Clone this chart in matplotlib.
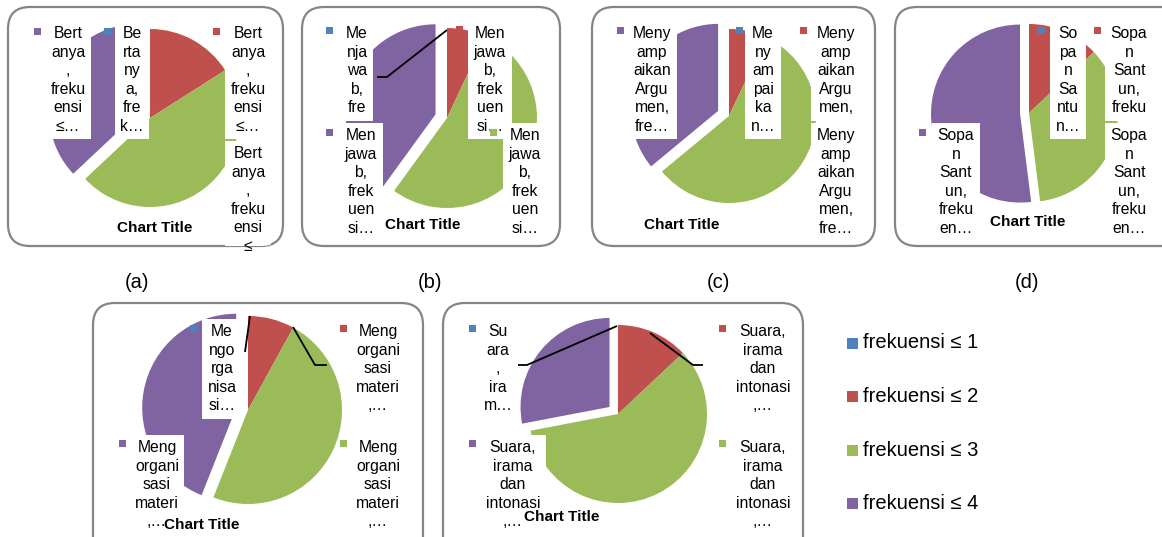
import matplotlib.pyplot as plt
from matplotlib.patches import FancyBboxPatch, Rectangle

plt.rcParams['font.family'] = ['Liberation Sans', 'DejaVu Sans']

categories = ['frekuensi ≤ 1', 'frekuensi ≤ 2', 'frekuensi ≤ 3', 'frekuensi ≤ 4']
colors = ['#4F81BD', '#C0504D', '#9BBB59', '#8064A2']

# share of students per frequency class, one list per speaking aspect
bertanya = [0, 16, 47, 37]
menjawab = [0, 7, 53, 40]
argumen = [0, 7, 57, 36]
sopan = [0, 13, 35, 52]
organisasi = [0, 8, 48, 44]
suara = [0, 13, 59, 28]

panel_tags = ['(a)', '(b)', '(c)', '(d)']

# wrapped data label texts as Excel squeezed them
lbl_bertanya = ['Bert\nanya\n,\nfreku\nensi\n≤…', 'Be\nrta\nny\na,\nfre\nk…',
                'Bert\nanya\n,\nfreku\nensi\n≤…', 'Bert\nanya\n,\nfreku\nensi\n≤']
lbl_menjawab = ['Me\nnja\nwa\nb,\nfre', 'Men\njawa\nb,\nfrek\nuen\nsi…',
                'Men\njawa\nb,\nfrek\nuen\nsi…', 'Men\njawa\nb,\nfrek\nuen\nsi…']
lbl_argumen = ['Meny\namp\naikan\nArgu\nmen,\nfre…', 'Me\nny\nam\npai\nka\nn…',
               'Meny\namp\naikan\nArgu\nmen,', 'Meny\namp\naikan\nArgu\nmen,\nfre…']
lbl_sopan = ['So\npa\nn\nSa\nntu\nn…', 'Sopa\nn\nSant\nun,\nfreku',
             'Sopa\nn\nSant\nun,\nfreku\nen…', 'Sopa\nn\nSant\nun,\nfreku\nen…']
lbl_organisasi = ['Me\nngo\nrga\nnisa\nsi…', 'Meng\norgani\nsasi\nmateri\n,…',
                  'Meng\norgani\nsasi\nmateri\n,…', 'Meng\norgani\nsasi\nmateri\n,…']
lbl_suara = ['Su\nara\n,\nira\nm…', 'Suara,\nirama\ndan\nintonasi\n,…',
             'Suara,\nirama\ndan\nintonasi\n,…', 'Suara,\nirama\ndan\nintonasi\n,…']

W, H = 1162, 537
fig = plt.figure(figsize=(W / 100, H / 100), dpi=100)
ax = fig.add_axes([0, 0, 1, 1])


def draw_panel(vals, box, center, radius, shift, title_xy, labels, leaders):
    x0, y0, x1, y1 = box
    frame = FancyBboxPatch((x0, y0), x1 - x0, y1 - y0,
                           boxstyle='round,pad=0,rounding_size=22',
                           fc='white', ec='#858585', lw=1.6, zorder=0)
    ax.add_patch(frame)
    # y axis points down, so this runs clockwise from 12 o'clock
    ax.pie(vals, colors=colors, center=center, radius=radius,
           startangle=-90, counterclock=True,
           explode=[0, 0, 0, shift], wedgeprops=dict(linewidth=0), frame=True)
    for pts, col in leaders:
        ax.plot([p[0] for p in pts], [p[1] for p in pts], color=col, lw=1.3,
                zorder=2, solid_capstyle='butt')
    for key, kx, ky, tx, ty, txt in labels:
        t = ax.text(tx, ty, txt, ha='center', va='top', fontsize=11.3,
                    linespacing=1.3, zorder=3, clip_on=True,
                    bbox=dict(boxstyle='square,pad=0.35', fc='white', ec='none'))
        t.set_clip_path(frame)
        if key is not None:
            ax.add_patch(Rectangle((kx - 3.5, ky - 3.5), 7, 7, color=colors[key],
                                   lw=0, zorder=4))
    ax.text(title_xy[0], title_xy[1], 'Chart Title', ha='center', va='center',
            fontsize=11, fontweight='bold', zorder=5)


draw_panel(bertanya, (8, 7, 283, 246), (150, 118), 89, 13, (155, 228),
           [(3, 37, 31, 68, 26, lbl_bertanya[0]),
            (0, 107, 31, 132, 26, lbl_bertanya[1]),
            (1, 216, 31, 248, 26, lbl_bertanya[2]),
            (None, 0, 0, 248, 146, lbl_bertanya[3])],
           [([(222, 136), (238, 136)], colors[2])])

draw_panel(menjawab, (302, 7, 560, 246), (447, 118), 90, 12, (423, 225),
           [(0, 329, 30, 357, 26, lbl_menjawab[0]),
            (1, 459, 29, 490, 26, lbl_menjawab[1]),
            (3, 329, 132, 361, 128, lbl_menjawab[2]),
            (2, 493, 132, 525, 128, lbl_menjawab[3])],
           [([(377, 77), (387, 77), (447, 30)], 'black')])

draw_panel(argumen, (592, 7, 875, 246), (729, 116), 87, 12, (682, 225),
           [(3, 620, 30, 652, 26, lbl_argumen[0]),
            (0, 739, 30, 763, 26, lbl_argumen[1]),
            (1, 803, 30, 836, 26, lbl_argumen[2]),
            (None, 0, 0, 836, 128, lbl_argumen[3])],
           [])

draw_panel(sopan, (895, 7, 1185, 246), (1029, 113), 89, 9, (1028, 222),
           [(0, 1041, 30, 1068, 26, lbl_sopan[0]),
            (1, 1097, 30, 1129, 26, lbl_sopan[1]),
            (None, 0, 0, 1129, 128, lbl_sopan[2]),
            (3, 922, 132, 956, 128, lbl_sopan[3])],
           [])

draw_panel(organisasi, (93, 303, 423, 560), (248, 410), 94, 12, (202, 525),
           [(0, 193, 328, 222, 324, lbl_organisasi[0]),
            (1, 343, 328, 378, 324, lbl_organisasi[1]),
            (3, 122, 443, 157, 440, lbl_organisasi[2]),
            (2, 343, 443, 378, 440, lbl_organisasi[3])],
           [([(245, 352), (250, 316)], 'black'),
            ([(293, 327), (315, 365), (327, 365)], 'black')])

draw_panel(suara, (443, 303, 803, 560), (618, 414), 89, 11, (562, 517),
           [(0, 472, 328, 498, 324, lbl_suara[0]),
            (1, 722, 328, 763, 324, lbl_suara[1]),
            (3, 472, 443, 513, 440, lbl_suara[2]),
            (2, 722, 443, 763, 440, lbl_suara[3])],
           [([(517, 365), (527, 365), (617, 326)], 'black'),
            ([(650, 333), (693, 365), (703, 365)], 'black')])

# sub-figure captions under the top row
for tag, x in zip(panel_tags, [137, 430, 718, 1027]):
    ax.text(x, 283, tag, ha='center', va='center', fontsize=14.5)

# shared legend
for i, (c, lab) in enumerate(zip(colors, categories)):
    y = 343 + i * 53.5
    ax.add_patch(Rectangle((847, y - 5.5), 11, 11, color=c, lw=0))
    ax.text(863, y, lab, ha='left', va='center', fontsize=14.5)

ax.set_xlim(0, W)
ax.set_ylim(H, 0)
ax.set_aspect('equal')
ax.axis('off')
fig.savefig('out.png', dpi=100)
